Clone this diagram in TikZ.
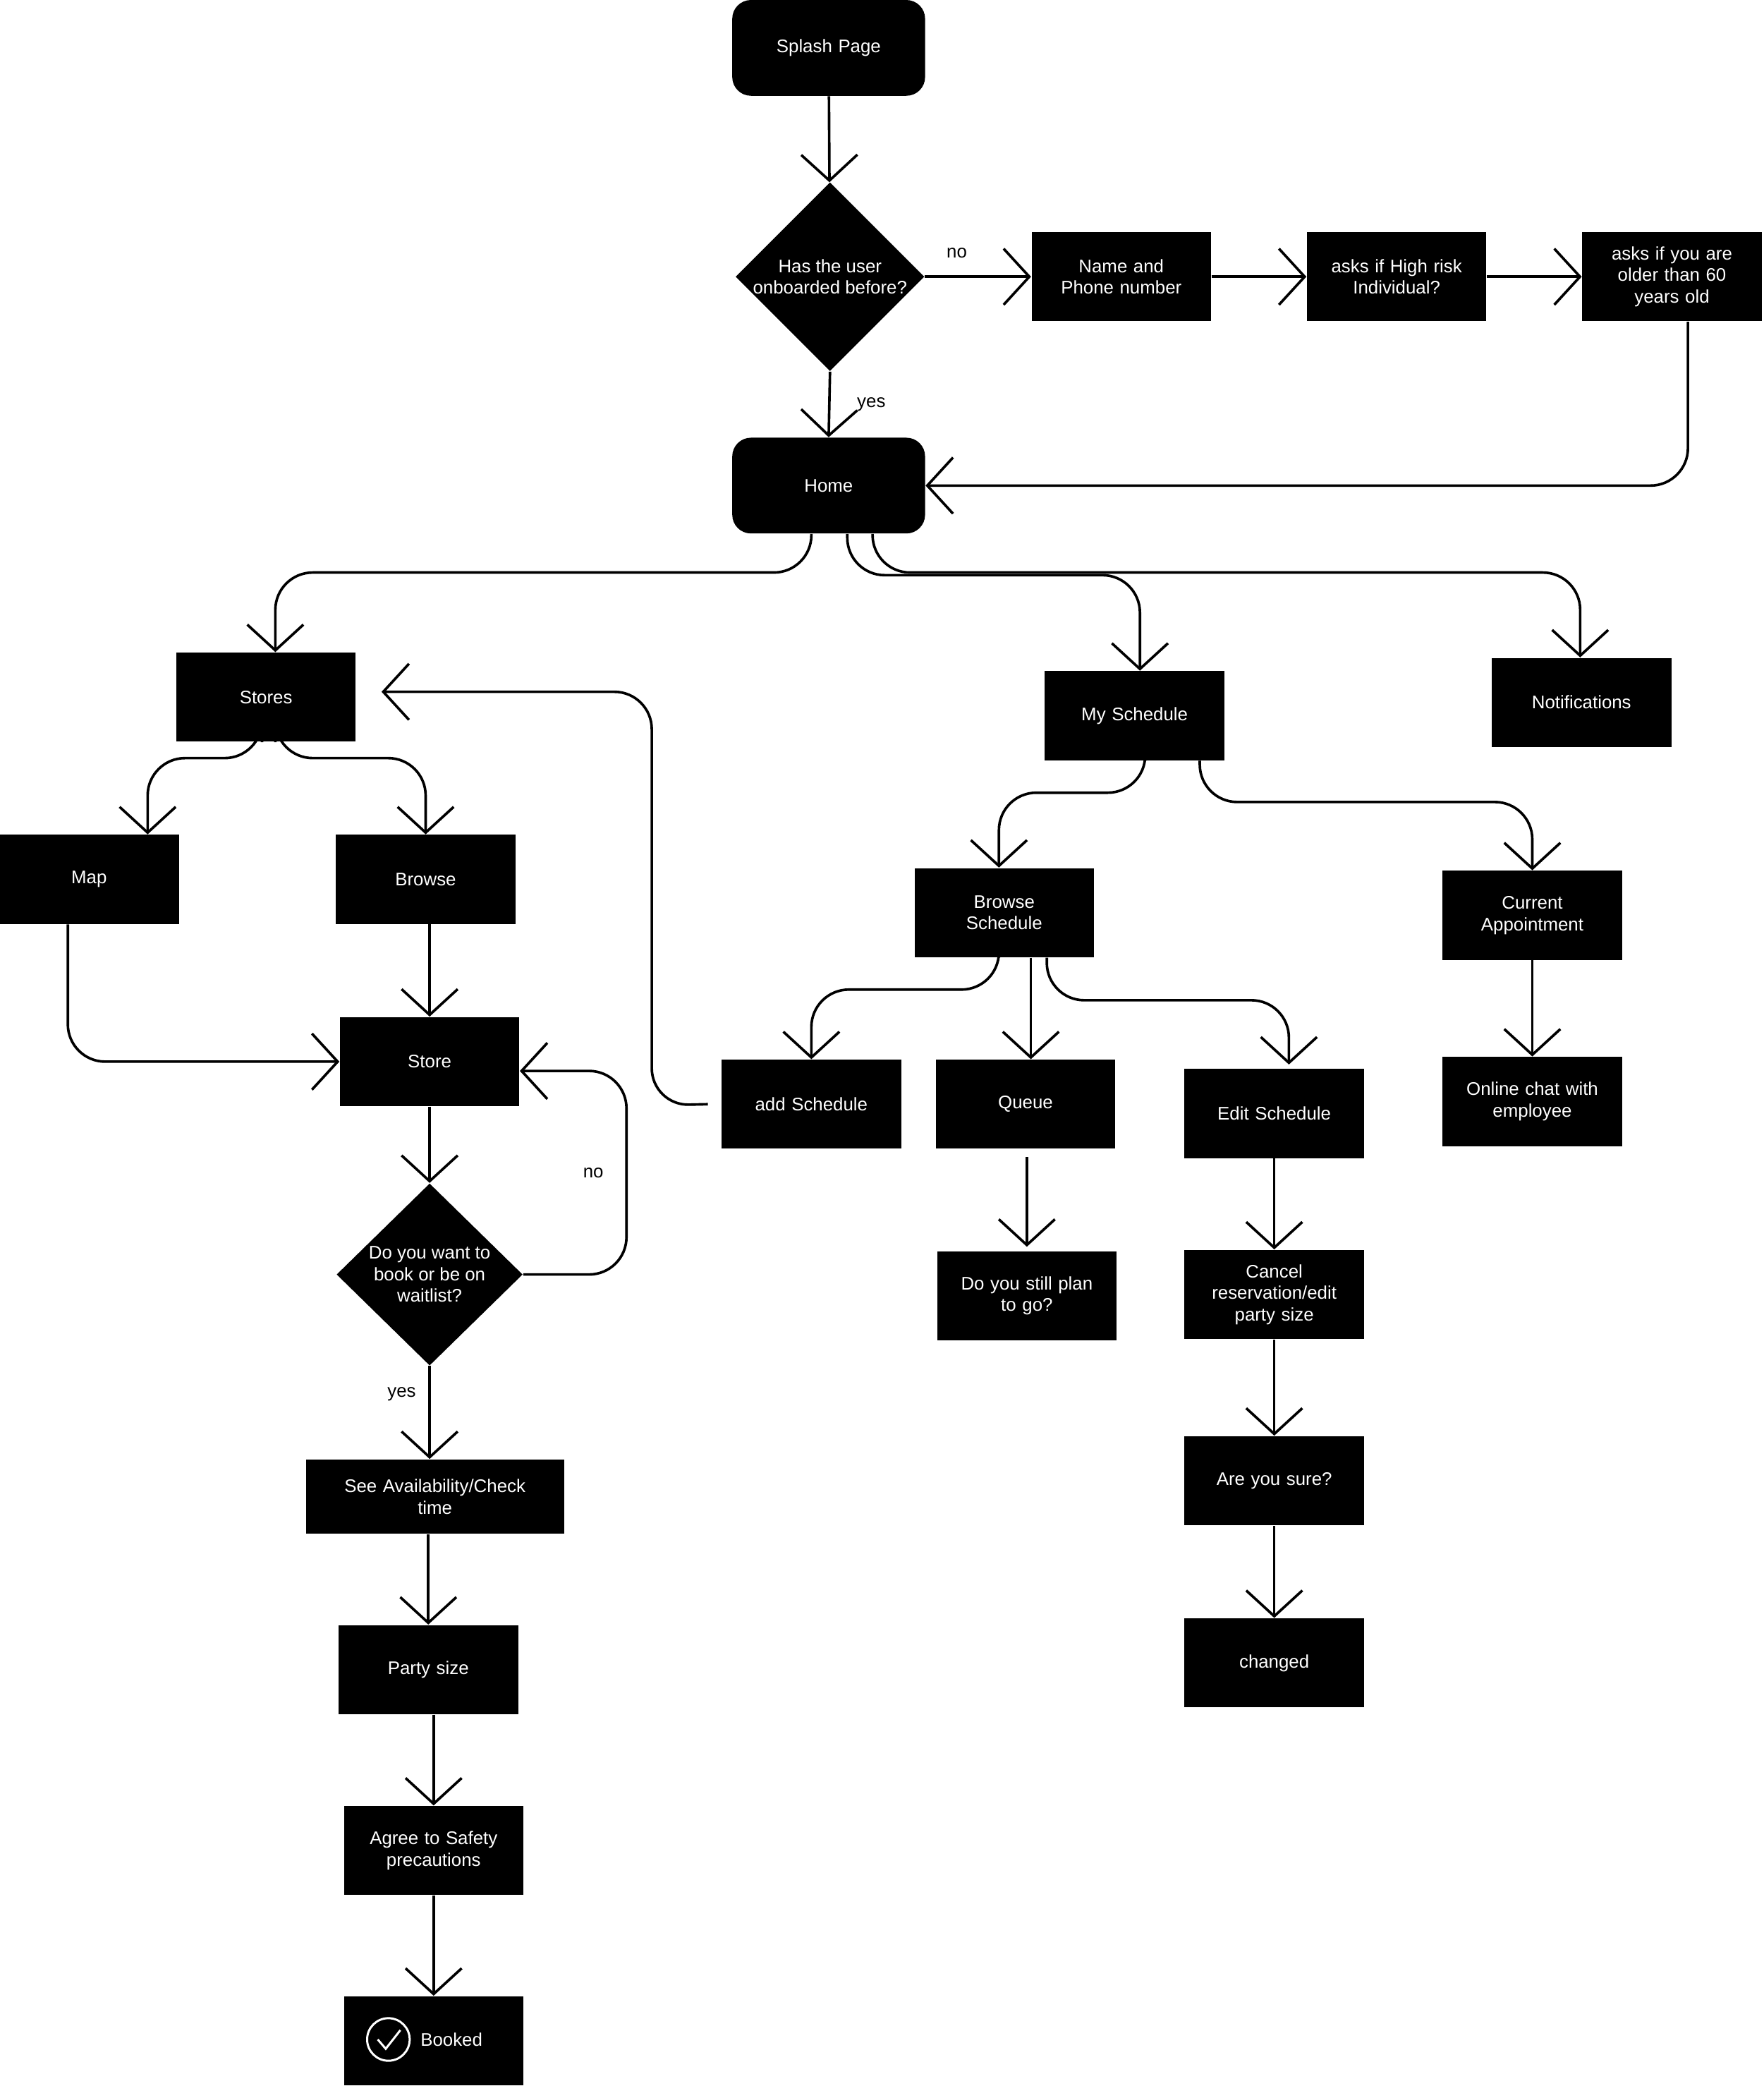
\documentclass[tikz,border=0pt]{standalone}
\usepackage{fontspec}
\setmainfont{Liberation Sans}
\usetikzlibrary{arrows.meta,shapes.geometric,calc}
\begin{document}
\begin{tikzpicture}[x=0.02cm,y=-0.02cm,
  font=\fontsize{7.8}{9.2}\selectfont,
  box/.style={fill=black,text=white,minimum width=2.7cm,minimum height=1.34cm,inner sep=2pt,align=center,text width=2.5cm},
  rbox/.style={box,rounded corners=8pt,minimum width=2.9cm,minimum height=1.44cm},
  dia/.style={diamond,fill=black,text=white,minimum width=2.8cm,minimum height=2.74cm,inner sep=0pt,align=center},
  arr/.style={-{Straight Barb[length=11pt,width=24pt,line width=1.1pt]},line width=1.1pt,rounded corners=16pt},
  lab/.style={font=\fontsize{7.8}{9.2}\selectfont}]
\useasboundingbox (0,0) rectangle (1326,1568);
\node[rbox] (splash) at (623,36) {Splash Page};
\node[dia] (d1) at (624,208) {Has the user\\onboarded before?};
\node[box] (name) at (843,208) {Name and\\Phone number};
\node[box] (risk) at (1050,208) {asks if High risk\\Individual?};
\node[box] (older) at (1257,208) {asks if you are\\older than 60\\years old};
\node[rbox] (home) at (623,365) {Home};
\node[box] (stores) at (200,524) {Stores};
\node[box] (mysch) at (853,538) {My Schedule};
\node[box] (notif) at (1189,528) {Notifications};
\node[box] (map) at (67,661) {Map};
\node[box] (browse) at (320,661) {Browse};
\node[box] (store) at (323,798) {Store};
\node[dia] (d2) at (323,958) {Do you want to\\book or be on\\waitlist?};
\node[box,minimum width=3.88cm,text width=3.7cm,minimum height=1.12cm] (see) at (327,1125) {See Availability/Check\\time};
\node[box] (party) at (322,1255) {Party size};
\node[box] (agree) at (326,1391) {Agree to Safety\\precautions};
\node[box] (booked) at (326,1534) {};
\draw[white,line width=0.9pt] (292,1533) circle (16);
\draw[white,line width=0.9pt] (284,1533) -- (290,1540) -- (301,1526);
\node[text=white,anchor=west] (bookedt) at (310,1533) {Booked};
\node[box] (bsch) at (755,686) {Browse\\Schedule};
\node[box] (cur) at (1152,688) {Current\\Appointment};
\node[box] (add) at (610,830) {add Schedule};
\node[box] (queue) at (771,830) {Queue};
\node[box] (edit) at (958,837) {Edit Schedule};
\node[box] (chat) at (1152,828) {Online chat with\\employee};
\node[box] (still) at (772,974) {Do you still plan\\to go?};
\node[box] (cancel) at (958,973) {Cancel\\reservation/edit\\party size};
\node[box] (sure) at (958,1113) {Are you sure?};
\node[box] (changed) at (958,1250) {changed};

\draw[arr] (splash) -- (d1);
\draw[arr] (d1.east) -- (name.west) node[lab,pos=0.3,above=4pt] {no};
\draw[arr] (name) -- (risk);
\draw[arr] (risk) -- (older);
\draw[arr] (d1.south) -- (home.north) node[lab,midway,right=8pt] {yes};
\draw[arr] ($(older.south)+(12,0)$) |- (home.east);
\draw[arr] ($(home.south)+(-13,0)$) -- ++(0,29) -| ($(stores.north)+(7,0)$);
\draw[arr] ($(home.south)+(14,0)$) -- ++(0,31) -| ($(mysch.north)+(4,0)$);
\draw[arr] ($(home.south)+(33,0)$) -- ++(0,29) -| ($(notif.north)+(-1,0)$);
\draw[arr] ($(stores.south)+(-3,0)$) -- ++(0,12) -| ($(map.north)+(44,0)$);
\draw[arr] ($(stores.south)+(7,0)$) -- ++(0,12) -| (browse.north);
\draw[arr] ($(map.south)+(-16,0)$) |- (store.west);
\draw[arr] ($(browse.south)+(3,0)$) -- (store.north);
\draw[arr] (store) -- (d2);
\draw[arr] (d2.east) -- (471,958) |- ($(store.east)+(0,7)$) node[lab,pos=0.25,left=6pt] {no};
\draw[arr] (d2.south) -- (see.north -| d2.south) node[lab,pos=0.3,left=2pt] {yes};
\draw[arr] (see.south -| party.north) -- (party.north);
\draw[arr] ($(party.south)+(4,0)$) -- (agree.north);
\draw[arr] (agree) -- (booked);
\draw[arr] ($(add.west)+(-10,0)$) -- (490,831) |- ($(stores.east)+(19,-4)$);
\draw[arr] ($(mysch.south)+(8,0)$) -- ++(0,24) -| ($(bsch.north)+(-4,0)$);
\draw[arr] ($(mysch.south)+(49,0)$) -- ++(0,31) -| (cur.north);
\draw[arr] ($(bsch.south)+(-4,0)$) -- ++(0,24) -| (add.north);
\draw[arr] ($(bsch.south)+(20,0)$) -- ($(queue.north)+(4,0)$);
\draw[arr] ($(bsch.south)+(32,0)$) -- ++(0,32) -| ($(edit.north)+(11,-3)$);
\draw[arr] (cur) -- (chat);
\draw[arr] ($(queue.south)+(1,6)$) -- ($(still.north)+(0,-3)$);
\draw[arr] (edit) -- (cancel);
\draw[arr] (cancel) -- (sure);
\draw[arr] (sure) -- (changed);
\end{tikzpicture}
\end{document}
